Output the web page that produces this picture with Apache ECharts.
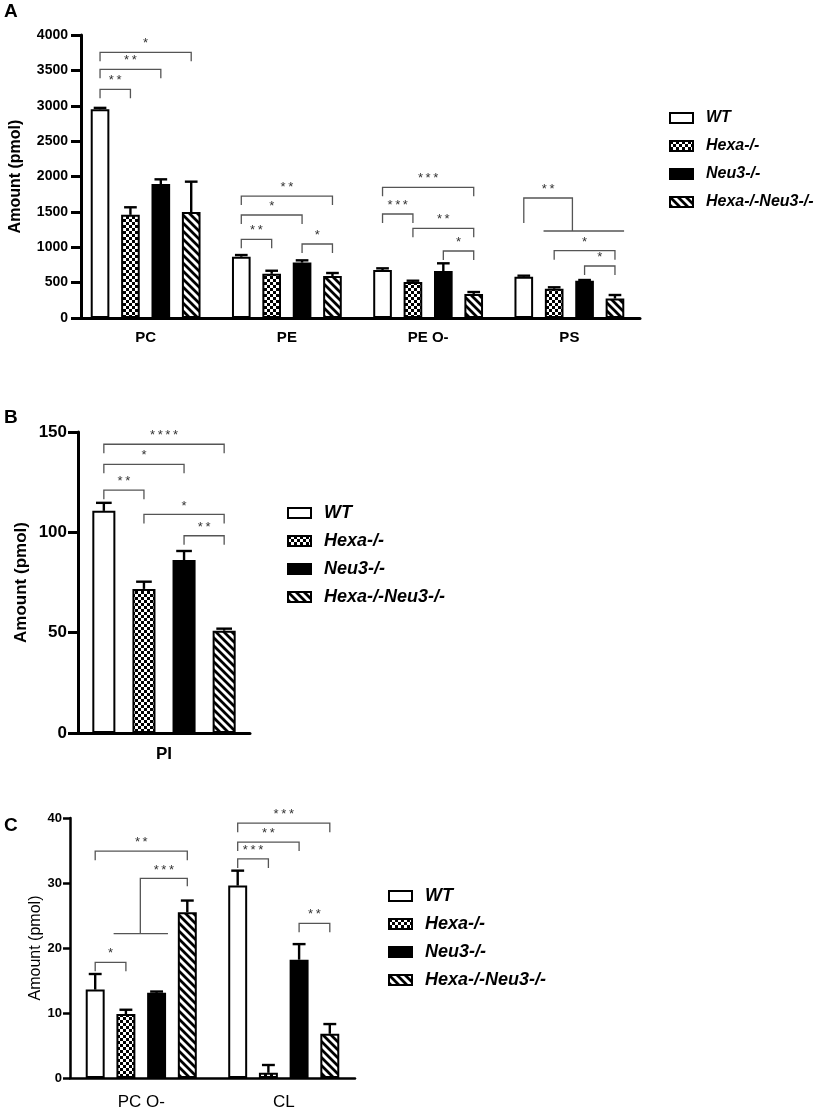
<html>
<head>
<meta charset='utf-8'>
<script src='https://cdn.jsdelivr.net/npm/echarts@6/dist/echarts.min.js'></script>
</head>
<body>
<style>
    html, body, #main {
        width: 100%;
        height: 100%;
        margin: 0;
        background: #fff;
    }
</style>
<div id='main'></div>
<script>

var GROUPS = ['WT', 'Hexa-/-', 'Neu3-/-', 'Hexa-/-Neu3-/-'];

// panel A - one row per genotype, one column per lipid class
var catA = ['PC', 'PE', 'PE O-', 'PS'];
var meanA = [
    [2950, 866, 678, 584],
    [1458, 624, 509, 414],
    [1893, 783, 664, 527],
    [1498, 594, 340, 274]
];
var errA = [
    [20, 24, 24, 14],
    [107, 44, 18, 20],
    [67, 32, 109, 10],
    [429, 42, 27, 51]
];
// [category, from bar, to bar, level, label]
var sigA = [
    [0, 0, 1, 3232, '**'],
    [0, 0, 2, 3515, '**'],
    [0, 0, 3, 3755, '*'],
    [1, 0, 1, 1112, '**'],
    [1, 0, 2, 1456, '*'],
    [1, 0, 3, 1724, '**'],
    [1, 2, 3, 1046, '*'],
    [2, 0, 3, 1847, '***'],
    [2, 0, 1, 1470, '***'],
    [2, 1, 3, 1268, '**'],
    [2, 2, 3, 947, '*'],
    [3, 1, 3, 951, '*'],
    [3, 2, 3, 735, '*']
];
// one bar against a group: [category, bar, leg end, level, drop at, group line level, group from, group to, label]
var groupSigA = [
    [3, 0, 1343, 1696, 1.6, 1230, 0.65, 3.3, '**']
];

// panel B
var catB = ['PI'];
var meanB = [[110.7], [71.8], [86.2], [51.0]];
var errB = [[4.0], [3.6], [4.5], [1.0]];
var sigB = [
    [0, 0, 1, 121, '**'],
    [0, 0, 2, 133.9, '*'],
    [0, 0, 3, 143.9, '****'],
    [0, 1, 3, 108.9, '*'],
    [0, 2, 3, 98.3, '**']
];
var groupSigB = [];

// panel C
var catC = ['PC O-', 'CL'];
var meanC = [
    [13.6, 29.6],
    [9.85, 0.8],
    [13.1, 18.2],
    [25.5, 6.8]
];
var errC = [
    [2.4, 2.3],
    [0.65, 1.2],
    [0.2, 2.4],
    [1.8, 1.5]
];
var sigC = [
    [0, 0, 1, 17.8, '*'],
    [0, 0, 3, 34.9, '**'],
    [1, 0, 1, 33.7, '***'],
    [1, 0, 2, 36.3, '**'],
    [1, 0, 3, 39.2, '***'],
    [1, 2, 3, 23.8, '**']
];
var groupSigC = [
    [0, 3, 29.5, 30.7, 1.47, 22.2, 0.6, 2.37, '***']
];

var FONT = 'Liberation Sans, Arial, sans-serif';
var LEG = 9;

function makeChecker() {
    var c = document.createElement('canvas');
    c.width = 6;
    c.height = 6;
    var ctx = c.getContext('2d');
    ctx.fillStyle = '#fff';
    ctx.fillRect(0, 0, 6, 6);
    ctx.fillStyle = '#000';
    ctx.fillRect(0, 0, 3, 3);
    ctx.fillRect(3, 3, 3, 3);
    return c;
}

function makeStripes() {
    var c = document.createElement('canvas');
    c.width = 8;
    c.height = 8;
    var ctx = c.getContext('2d');
    ctx.fillStyle = '#fff';
    ctx.fillRect(0, 0, 8, 8);
    ctx.strokeStyle = '#000';
    ctx.lineWidth = 2.8;
    ctx.beginPath();
    ctx.moveTo(-1, -1); ctx.lineTo(9, 9);
    ctx.moveTo(-1, 7); ctx.lineTo(1, 9);
    ctx.moveTo(7, -1); ctx.lineTo(9, 1);
    ctx.stroke();
    return c;
}

var FILLS = [
    '#fff',
    { image: makeChecker(), repeat: 'repeat' },
    '#000',
    { image: makeStripes(), repeat: 'repeat' }
];

// each panel: bar width and bar gap as fraction of the band
var panels = [
    { cats: catA, mean: meanA, err: errA, sig: sigA, group: groupSigA, bw: 0.132, gap: 0.63 },
    { cats: catB, mean: meanB, err: errB, sig: sigB, group: groupSigB, bw: 0.134, gap: 0.74 },
    { cats: catC, mean: meanC, err: errC, sig: sigC, group: groupSigC, bw: 0.133, gap: 0.62 }
];

function slotX(api, cat, value, slot, p) {
    var band = api.size([1, 0])[0];
    var c = api.coord([cat, value]);
    return c[0] + (slot - 1.5) * p.bw * (1 + p.gap) * band;
}

function errorRenderer(p) {
    return function (params, api) {
        var cat = api.value(0);
        var slot = api.value(2);
        var band = api.size([1, 0])[0];
        var x = slotX(api, cat, 0, slot, p);
        var yTop = api.coord([cat, api.value(1)])[1];
        var yBase = api.coord([cat, api.value(3)])[1];
        var half = p.bw * band * 0.34;
        return {
            type: 'group',
            children: [
                { type: 'line', shape: { x1: x, y1: yBase, x2: x, y2: yTop }, style: { stroke: '#000', lineWidth: 2.4 } },
                { type: 'line', shape: { x1: x - half, y1: yTop, x2: x + half, y2: yTop }, style: { stroke: '#000', lineWidth: 2.4 } }
            ]
        };
    };
}

function sigText(label, x, y) {
    return {
        type: 'text',
        style: {
            text: label.split('').join('\u2009'), x: x, y: y - 2, align: 'center', verticalAlign: 'bottom',
            font: '13px ' + FONT, fill: '#333'
        }
    };
}

function bracketRenderer(p) {
    return function (params, api) {
        var b = p.sig[params.dataIndex];
        var x1 = slotX(api, b[0], b[3], b[1], p);
        var x2 = slotX(api, b[0], b[3], b[2], p);
        var y = api.coord([b[0], b[3]])[1];
        return {
            type: 'group',
            children: [
                {
                    type: 'polyline',
                    shape: { points: [[x1, y + LEG], [x1, y], [x2, y], [x2, y + LEG]] },
                    style: { stroke: '#555', lineWidth: 1.3, fill: null }
                },
                sigText(b[4], (x1 + x2) / 2, y)
            ]
        };
    };
}

function groupRenderer(p) {
    return function (params, api) {
        var g = p.group[params.dataIndex];
        var xs = slotX(api, g[0], 0, g[1], p);
        var xd = slotX(api, g[0], 0, g[4], p);
        var xa = slotX(api, g[0], 0, g[6], p);
        var xb = slotX(api, g[0], 0, g[7], p);
        var yLeg = api.coord([g[0], g[2]])[1];
        var yTop = api.coord([g[0], g[3]])[1];
        var yLine = api.coord([g[0], g[5]])[1];
        return {
            type: 'group',
            children: [
                {
                    type: 'polyline',
                    shape: { points: [[xs, yLeg], [xs, yTop], [xd, yTop], [xd, yLine]] },
                    style: { stroke: '#555', lineWidth: 1.3, fill: null }
                },
                { type: 'line', shape: { x1: xa, y1: yLine, x2: xb, y2: yLine }, style: { stroke: '#555', lineWidth: 1.3 } },
                sigText(g[8], (xs + xd) / 2, yTop)
            ]
        };
    };
}

var grids = [
    { left: 64, top: 35, width: 576, height: 283 },
    { left: 78, top: 432, width: 172, height: 301 },
    { left: 70, top: 818, width: 285, height: 260 }
];

var axisStyle = [
    { max: 4000, interval: 500, tick: 14, cat: 15, name: 16, nameBold: 'bold', catBold: 'bold', nameGap: 57, offset: -6, lw: 3, tickLen: 10, margin: 13, xMargin: 12, xTick: 10 },
    { max: 150, interval: 50, tick: 17, cat: 17, name: 17, nameBold: 'bold', catBold: 'bold', nameGap: 48, offset: 0, lw: 3, tickLen: 10, margin: 11, xMargin: 13, xTick: 8 },
    { max: 40, interval: 10, tick: 13, cat: 17, name: 16, nameBold: 'normal', catBold: 'normal', nameGap: 26, offset: 0, lw: 2.5, tickLen: 7, margin: 8, xMargin: 16, xTick: 7 }
];

var xAxes = [], yAxes = [], series = [];

panels.forEach(function (p, pi) {
    var s = axisStyle[pi];
    xAxes.push({
        gridIndex: pi,
        type: 'category',
        data: p.cats,
        axisLine: { lineStyle: { color: '#000', width: s.lw } },
        axisTick: { alignWithLabel: true, length: s.xTick, lineStyle: { color: '#000', width: s.lw } },
        axisLabel: { color: '#000', fontFamily: FONT, fontSize: s.cat, fontWeight: s.catBold, margin: s.xMargin }
    });
    yAxes.push({
        gridIndex: pi,
        type: 'value',
        min: 0,
        max: s.max,
        interval: s.interval,
        offset: s.offset,
        name: 'Amount (pmol)',
        nameLocation: 'middle',
        nameGap: s.nameGap,
        nameTextStyle: { color: '#000', fontFamily: FONT, fontSize: s.name, fontWeight: s.nameBold },
        axisLine: { show: true, lineStyle: { color: '#000', width: s.lw } },
        axisTick: { show: true, length: s.tickLen, lineStyle: { color: '#000', width: s.lw } },
        axisLabel: {
            color: '#000', fontFamily: FONT, fontSize: s.tick, fontWeight: 'bold', margin: s.margin,
            formatter: function (v) { return String(v); }
        },
        splitLine: { show: false }
    });

    var errData = [];
    GROUPS.forEach(function (name, gi) {
        series.push({
            type: 'bar',
            name: name,
            xAxisIndex: pi,
            yAxisIndex: pi,
            data: p.mean[gi],
            barWidth: (p.bw * 100) + '%',
            barGap: (p.gap * 100) + '%',
            itemStyle: { color: FILLS[gi], borderColor: '#000', borderWidth: 2 },
            silent: true
        });
        p.mean[gi].forEach(function (v, ci) {
            errData.push([ci, v + p.err[gi][ci], gi, v]);
        });
    });

    series.push({
        type: 'custom',
        xAxisIndex: pi,
        yAxisIndex: pi,
        renderItem: errorRenderer(p),
        data: errData,
        clip: false,
        silent: true,
        z: 3
    });
    series.push({
        type: 'custom',
        xAxisIndex: pi,
        yAxisIndex: pi,
        renderItem: bracketRenderer(p),
        data: p.sig.map(function (b) { return [b[0], b[3]]; }),
        clip: false,
        silent: true
    });
    if (p.group.length) {
        series.push({
            type: 'custom',
            xAxisIndex: pi,
            yAxisIndex: pi,
            renderItem: groupRenderer(p),
            data: p.group.map(function (g) { return [g[0], g[3]]; }),
            clip: false,
            silent: true
        });
    }
});

function legendAt(left, top, size) {
    return {
        data: GROUPS,
        orient: 'vertical',
        left: left,
        top: top,
        padding: 0,
        icon: 'rect',
        itemWidth: 23,
        itemHeight: 10,
        itemGap: 0,
        selectedMode: false,
        itemStyle: { borderColor: '#000', borderWidth: 2 },
        textStyle: {
            color: '#000', fontFamily: FONT, fontSize: size, fontWeight: 'bold',
            fontStyle: 'italic', lineHeight: 28, padding: [0, 0, 0, 8]
        }
    };
}

function panelLetter(text, y) {
    return {
        type: 'text',
        left: 4,
        top: y,
        style: { text: text, font: 'bold 19px ' + FONT, fill: '#000' }
    };
}

var chart = echarts.init(document.getElementById('main'));

chart.setOption({
    animation: false,
    backgroundColor: '#fff',
    grid: grids,
    xAxis: xAxes,
    yAxis: yAxes,
    legend: [
        legendAt(669, 104, 16),
        legendAt(287, 499, 18),
        legendAt(388, 882, 18)
    ],
    graphic: [
        panelLetter('A', 2),
        panelLetter('B', 408),
        panelLetter('C', 816)
    ],
    series: series
});

</script>
</body>
</html>
